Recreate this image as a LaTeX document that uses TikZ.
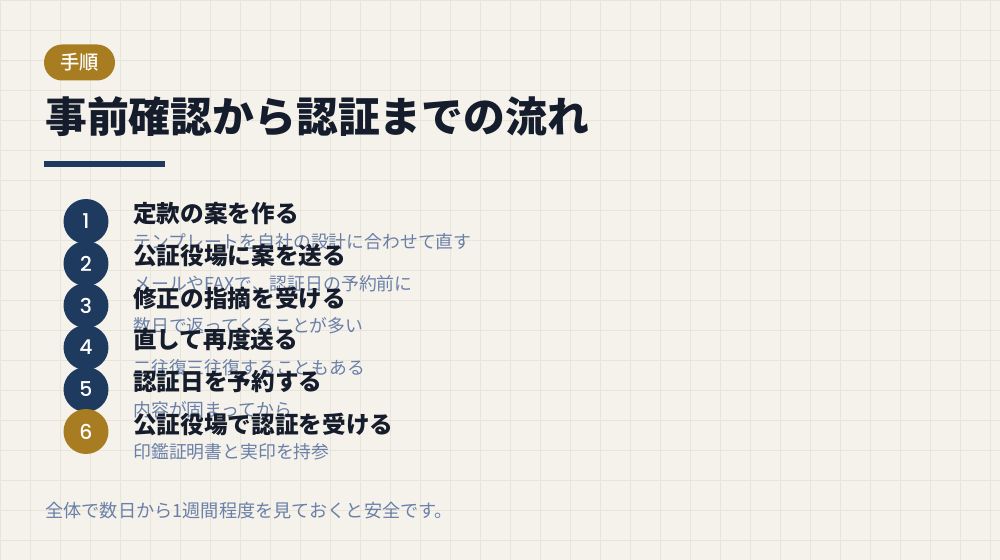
\documentclass[tikz,border=0pt]{standalone}
\usepackage{fontspec}
\setmainfont{Noto Sans CJK JP}
\newfontfamily\numfont{Poppins}[UprightFont=* Medium]
\newfontfamily\badgefont{Noto Sans CJK JP Medium}
\definecolor{paper}{HTML}{F5F2EB}
\definecolor{gridcol}{HTML}{E9E4D9}
\definecolor{navy}{HTML}{1F3A5F}
\definecolor{gold}{HTML}{A87D22}
\definecolor{ink}{HTML}{151C2C}
\definecolor{slate}{HTML}{6A80A8}
\begin{document}
\begin{tikzpicture}[x=0.02cm, y=-0.02cm,
		gridline/.style={draw=gridcol, line width=0.5pt},
		numdot/.style={circle, minimum size=0.9cm, inner sep=0pt, text=white, font=\numfont\fontsize{11.6}{13}\selectfont},
		steptitle/.style={anchor=west, inner sep=0pt, text=ink, font=\bfseries\fontsize{13.45}{15}\selectfont},
		stepnote/.style={anchor=west, inner sep=0pt, text=slate, font=\fontsize{10.15}{12}\selectfont}]
			\useasboundingbox (0,0) rectangle (1000,560);
			\fill[paper] (0,0) rectangle (1000,560);
			\foreach \gx in {0,30,...,990} \draw[gridline] (\gx,0) -- (\gx,560);
			\foreach \gy in {0,30,...,540} \draw[gridline] (0,\gy) -- (1000,\gy);
			
			\node[fill=gold, rounded corners=0.36cm, minimum width=1.42cm, minimum height=0.72cm, inner sep=0pt,
				text=white, font=\badgefont\fontsize{11}{12}\selectfont] (badge) at (79.5,62.5) {手順};
			\node[anchor=west, inner sep=0pt, text=ink, font=\bfseries\fontsize{23.8}{27}\selectfont] (heading) at (45,117) {事前確認から認証までの流れ};
			\fill[navy] (44,161) rectangle (165,167);
			
			\foreach \n/\col/\ttl/\sub in {1/navy/定款の案を作る/テンプレートを自社の設計に合わせて直す,
					2/navy/公証役場に案を送る/メールやFAXで、認証日の予約前に,
					3/navy/修正の指摘を受ける/数日で返ってくることが多い,
					4/navy/直して再度送る/二往復三往復することもある,
					5/navy/認証日を予約する/内容が固まってから,
					6/gold/公証役場で認証を受ける/印鑑証明書と実印を持参} {
				\node[numdot, fill=\col] (dot\n) at (86,{221.5+42*(\n-1)}) {\n};
				\node[steptitle] (ttl\n) at (133,{214+42*(\n-1)}) {\ttl};
				\node[stepnote] (sub\n) at (133,{242+42*(\n-1)}) {\sub};
			}
			
			\node[stepnote, font=\fontsize{10.35}{12}\selectfont] (footer) at (45,511) {全体で数日から1週間程度を見ておくと安全です。};
		\end{tikzpicture}
\end{document}
